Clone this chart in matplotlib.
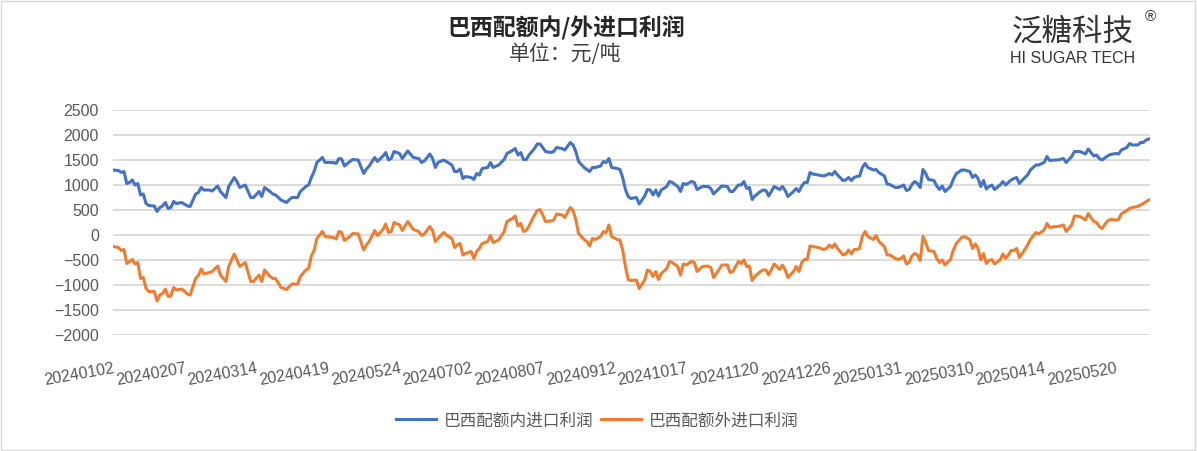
import matplotlib.pyplot as plt
from matplotlib.patches import Rectangle

plt.rcParams['font.family'] = ['Liberation Sans', 'Noto Sans CJK SC', 'DejaVu Sans']

# x tick labels, one every 26 trading days
date_labels = ['20240102', '20240207', '20240314', '20240419', '20240524',
               '20240702', '20240807', '20240912', '20241017', '20241120',
               '20241226', '20250131', '20250310', '20250414', '20250520']

# trading day number (0 = 20240102) of each value
day = [0, 2, 3, 4, 5, 6, 7, 8, 9, 10, 11, 12, 13, 15, 16, 17, 18, 19, 20, 21,
       22, 23, 25, 27, 28, 30, 31, 32, 33, 35, 36, 38, 39, 41, 42, 44, 45, 46, 48, 50,
       51, 53, 54, 55, 57, 58, 59, 61, 63, 64, 65, 67, 68, 70, 71, 72, 73, 74, 76, 77,
       80, 81, 82, 83, 84, 86, 87, 89, 91, 92, 93, 95, 96, 98, 99, 100, 101, 102, 104, 105,
       107, 109, 111, 112, 113, 115, 116, 117, 118, 120, 121, 123, 124, 125, 126, 127, 128, 130, 131, 132,
       133, 134, 136, 137, 138, 140, 142, 143, 145, 146, 147, 148, 149, 150, 151, 153, 154, 155, 156, 157,
       159, 160, 161, 163, 164, 166, 167, 168, 169, 171, 172, 173, 174, 175, 177, 178, 179, 180, 181, 183,
       184, 185, 186, 187, 188, 190, 191, 193, 194, 195, 196, 197, 198, 199, 201, 202, 203, 205, 206, 207,
       208, 210, 211, 212, 214, 216, 217, 218, 220, 221, 223, 224, 225, 227, 228, 229, 230, 231, 232, 233,
       235, 236, 237, 238, 240, 242, 243, 244, 245, 247, 248, 249, 250, 251, 252, 253, 254, 256, 258, 259,
       260, 261, 262, 263, 265, 266, 267, 268, 269, 270, 271, 272, 273, 274, 276, 277, 278, 280, 281, 282,
       284, 285, 286, 287, 288, 289, 290, 291, 292, 293, 294, 295, 296, 298, 299, 300, 301, 302, 304, 305,
       306, 308, 309, 311, 312, 313, 314, 315, 316, 317, 318, 319, 320, 322, 323, 324, 325, 326, 327, 328,
       329, 331, 332, 333, 335, 336, 338, 339, 340, 342, 343, 345, 346, 348, 349, 351, 353, 354, 356, 357,
       358, 359, 361, 362, 364, 365, 366, 368, 369, 370, 372, 373, 374, 375, 376]

# 巴西配额内进口利润 (元/吨)
inner = [1290, 1280, 1240, 1260, 1020, 1040, 1090, 990, 1020, 790, 810, 620, 580, 570, 460, 540, 570, 640, 520, 540,
         660, 620, 640, 570, 560, 810, 840, 940, 890, 890, 870, 970, 860, 740, 960, 1140, 1060, 940, 990, 740,
         740, 860, 760, 940, 860, 810, 790, 690, 640, 700, 740, 740, 860, 960, 990, 1140, 1260, 1440, 1540, 1440,
         1440, 1420, 1520, 1510, 1370, 1460, 1500, 1490, 1220, 1310, 1370, 1540, 1460, 1570, 1640, 1490, 1520, 1660, 1620, 1520,
         1670, 1540, 1520, 1440, 1470, 1610, 1520, 1340, 1440, 1490, 1460, 1390, 1260, 1260, 1310, 1120, 1160, 1140, 1100, 1220,
         1190, 1320, 1340, 1440, 1340, 1390, 1500, 1620, 1680, 1720, 1590, 1640, 1500, 1500, 1590, 1720, 1810, 1810, 1740, 1660,
         1640, 1660, 1740, 1720, 1690, 1840, 1790, 1660, 1460, 1340, 1300, 1260, 1340, 1340, 1370, 1460, 1440, 1520, 1340, 1320,
         1300, 1140, 900, 760, 720, 740, 610, 770, 900, 890, 790, 890, 770, 890, 960, 1060, 1040, 960, 860, 1020,
         1000, 1060, 1040, 900, 960, 960, 920, 810, 920, 970, 960, 860, 860, 990, 990, 1060, 920, 940, 700, 770,
         860, 890, 880, 770, 960, 900, 960, 880, 760, 860, 920, 860, 970, 1040, 1040, 1240, 1210, 1190, 1170, 1190,
         1220, 1190, 1260, 1190, 1080, 1090, 1140, 1080, 1140, 1160, 1170, 1340, 1420, 1340, 1290, 1300, 1240, 1170, 1010, 1000,
         940, 940, 960, 990, 880, 900, 1000, 1060, 1020, 940, 1300, 1220, 1100, 1080, 970, 900, 970, 860, 960, 1100,
         1210, 1290, 1290, 1260, 1140, 1190, 1120, 960, 1080, 910, 960, 990, 900, 990, 1060, 990, 1040, 1090, 1120, 1140,
         1020, 1140, 1190, 1290, 1390, 1390, 1440, 1560, 1480, 1490, 1490, 1520, 1440, 1560, 1660, 1660, 1610, 1710, 1570, 1590,
         1520, 1490, 1570, 1600, 1620, 1610, 1690, 1740, 1820, 1790, 1790, 1840, 1840, 1890, 1910]

# 巴西配额外进口利润 (元/吨)
outer = [-240, -260, -320, -300, -580, -540, -500, -590, -560, -880, -860, -1080, -1140, -1140, -1330, -1210, -1180, -1090, -1240, -1230,
         -1060, -1110, -1090, -1190, -1210, -880, -820, -690, -790, -760, -740, -630, -810, -940, -640, -390, -510, -640, -560, -940,
         -940, -810, -940, -710, -840, -880, -880, -1060, -1100, -1040, -990, -990, -840, -710, -680, -430, -320, -80, 60, -40,
         -60, -90, 60, 40, -120, -40, 20, 10, -310, -210, -140, 80, -20, 100, 210, 40, 60, 240, 190, 80,
         260, 100, 60, -20, 10, 160, 80, -140, -80, 40, -10, -80, -260, -210, -180, -410, -380, -340, -480, -340,
         -280, -180, -140, -20, -160, -110, 60, 260, 320, 370, 170, 220, 60, 80, 170, 390, 480, 500, 390, 260,
         270, 290, 410, 390, 340, 540, 480, 290, 20, -100, -140, -230, -80, -100, -40, 60, 40, 190, -40, -100,
         -110, -310, -640, -900, -920, -910, -1080, -910, -710, -740, -840, -740, -900, -780, -680, -540, -560, -640, -810, -590,
         -610, -540, -560, -740, -640, -630, -660, -860, -700, -610, -610, -760, -740, -540, -580, -510, -640, -630, -920, -840,
         -740, -710, -710, -810, -590, -700, -610, -710, -860, -740, -640, -740, -560, -500, -500, -230, -240, -260, -300, -280,
         -210, -260, -190, -280, -410, -390, -310, -390, -300, -300, -280, -40, 60, -40, -100, -20, -140, -240, -410, -410,
         -480, -500, -480, -430, -590, -560, -430, -380, -410, -520, -40, -160, -320, -340, -480, -560, -510, -610, -500, -320,
         -190, -60, -40, -100, -280, -190, -280, -510, -380, -580, -520, -500, -590, -510, -390, -480, -410, -320, -320, -280,
         -460, -300, -210, -100, 40, 10, 90, 220, 140, 160, 160, 190, 60, 190, 370, 360, 290, 420, 260, 240,
         160, 120, 270, 300, 290, 300, 410, 480, 520, 540, 560, 590, 620, 660, 690]

fig = plt.figure(figsize=(11.97, 4.51), dpi=100)
ax = fig.add_axes([0.0944, 0.2583, 0.8663, 0.4989])

ax.plot(day, inner, color='#4472C4', lw=2.2, label='巴西配额内进口利润')
ax.plot(day, outer, color='#ED7D31', lw=2.2, label='巴西配额外进口利润')

ax.set_xlim(0, 376.4)
ax.set_ylim(-2000, 2500)
ax.set_yticks(range(-2000, 2501, 500))
ax.grid(axis='y', color='#D9D9D9', lw=1.3)
ax.set_axisbelow(True)
for s in ax.spines.values():
    s.set_visible(False)
ax.tick_params(axis='both', length=0, labelsize=11.5, labelcolor='#595959')
ax.tick_params(axis='y', pad=10)

ax.set_xticks([i * 26 for i in range(len(date_labels))])
ax.set_xticklabels(date_labels, rotation=10, ha='right', va='top',
                   rotation_mode='anchor')
ax.tick_params(axis='x', pad=19)

cjk = ['Noto Sans CJK SC', 'DejaVu Sans']
fig.text(0.473, 0.938, '巴西配额内/外进口利润', ha='center', va='center',
         fontsize=16.5, fontweight='bold', color='#262626', family=cjk)
fig.text(0.472, 0.881, '单位：元/吨', ha='center', va='center',
         fontsize=15, color='#404040', family=cjk)

# logo
fig.text(0.896, 0.928, '泛糖科技', ha='center', va='center', fontsize=22,
         fontweight='medium', color='#333333', family=cjk)
fig.text(0.896, 0.871, 'HI SUGAR TECH', ha='center', va='center', fontsize=11.5,
         color='#333333')
fig.text(0.961, 0.962, '®', ha='center', va='center', fontsize=11,
         color='#333333')

fig.legend(loc='center', bbox_to_anchor=(0.499, 0.067), ncol=2, frameon=False,
           prop={'family': cjk, 'size': 12}, labelcolor='#595959',
           handlelength=2.4, handletextpad=0.5, columnspacing=0.4)

fig.patches.append(Rectangle((0.001, 0.002), 0.997, 0.995, transform=fig.transFigure,
                             fill=False, ec='#D9D9D9', lw=1))

fig.savefig('out.png', dpi=100)
